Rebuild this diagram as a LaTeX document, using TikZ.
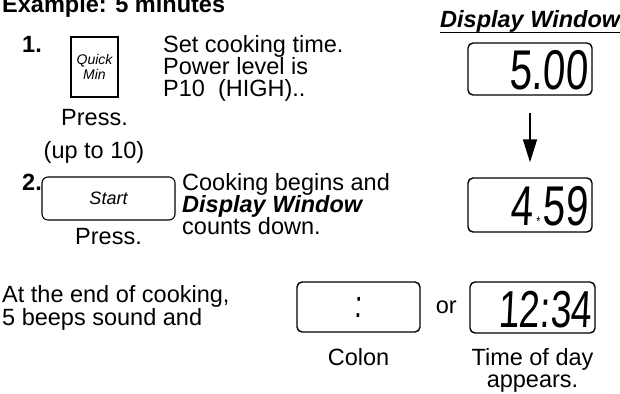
\documentclass[tikz,border=0pt]{standalone}
\usepackage{fontspec}
\setmainfont{Liberation Sans}
\newfontfamily\lcdfont[FakeStretch=0.72,FakeSlant=0.05]{Liberation Sans}
\usetikzlibrary{arrows.meta,positioning,calc}

\begin{document}
\begin{tikzpicture}[
    x=1pt, y=-1pt,
    txt/.style={inner sep=0pt, align=left, font=\fontsize{23.5}{22}\selectfont},
    hd/.style={inner sep=0pt, font=\bfseries\fontsize{23.5}{22}\selectfont},
    keycap/.style={rectangle, draw=black, line width=1.1pt, align=center, font=\itshape\fontsize{14}{15}\selectfont},
    display/.style={rectangle, draw=black, line width=1.4pt, rounded corners=5pt, minimum width=124pt, minimum height=52pt},
    lcd/.style={inner sep=0pt, font=\lcdfont\fontsize{56}{56}\selectfont}
]
    \useasboundingbox (0,0) rectangle (620,393);

    % Heading (cut by the top edge)
    \node[hd, anchor=base west] (title) at (2,13) {Example: 5 minutes};

    % Step 1
    \node[hd, anchor=base west] (one) at (22,53) {1.};
    \node[keycap, minimum width=47pt, minimum height=60pt] (quick) at (94.5,67) {Quick\\Min};
    \node[txt, below=12pt of quick] (press1) {Press.};
    \node[txt, anchor=base] (upto) at (94,158) {(up to 10)};
    \node[txt, anchor=base west] (set) at (163,97) {Set cooking time.\\Power level is\\P10~ (HIGH)..};

    % Step 2
    \node[hd, anchor=base west] (two) at (22,190) {2.};
    \node[keycap, rounded corners=6pt, minimum width=133pt, minimum height=43pt, font=\itshape\fontsize{18}{18}\selectfont] (start) at (108.5,198.5) {Start};
    \node[txt, below=8pt of start] (press2) {Press.};
    \node[txt, anchor=base west] (begin) at (182,234) {Cooking begins and\\\textbf{\textit{Display Window}}\\counts down.};

    % Display window column
    \node[hd, anchor=base west, font=\bfseries\itshape\fontsize{23.5}{22}\selectfont] (dwin) at (440,28) {Display Window};
    \draw[line width=1.3pt] ($(dwin.base west)+(0,4.5)$) -- ($(dwin.base east)+(0,4.5)$);
    \node[display] (disp1) at (530,69) {};
    \node[lcd, anchor=base east] (t1) at (588,90) {5.00};
    \node[display, minimum height=54pt] (disp2) at (530,205) {};
    \node[lcd, anchor=base east] (t2) at (588,225) {4\kern3pt\raisebox{-1pt}{\fontsize{14}{14}\selectfont *}\kern3pt 59};
    \draw[line width=1.6pt, -{Triangle[length=23pt,width=14pt]}, shorten <=17pt, shorten >=15pt] (disp1) -- (disp2);

    % End of cooking
    \node[txt, anchor=base west, font=\fontsize{23.5}{23}\selectfont] (endtxt) at (2,325) {At the end of cooking,\\5 beeps sound and};
    \node[display, minimum width=123pt, minimum height=50pt] (disp3) at (358.5,307) {};
    \node[lcd, font=\lcdfont\fontsize{38}{38}\selectfont] (colon) at (disp3) {:};
    \node[txt, right=15pt of disp3] (or) {or};
    \node[display, minimum width=125pt, minimum height=51pt] (disp4) at (532.5,307.5) {};
    \node[lcd, anchor=base east, font=\lcdfont\fontsize{52}{52}\selectfont] (t4) at (592,327) {12:34};
    \node[txt, below=16pt of disp3] (colonlbl) {Colon};
    \node[txt, align=center, below=15pt of disp4] (tod) {Time of day\\appears.};
\end{tikzpicture}
\end{document}
